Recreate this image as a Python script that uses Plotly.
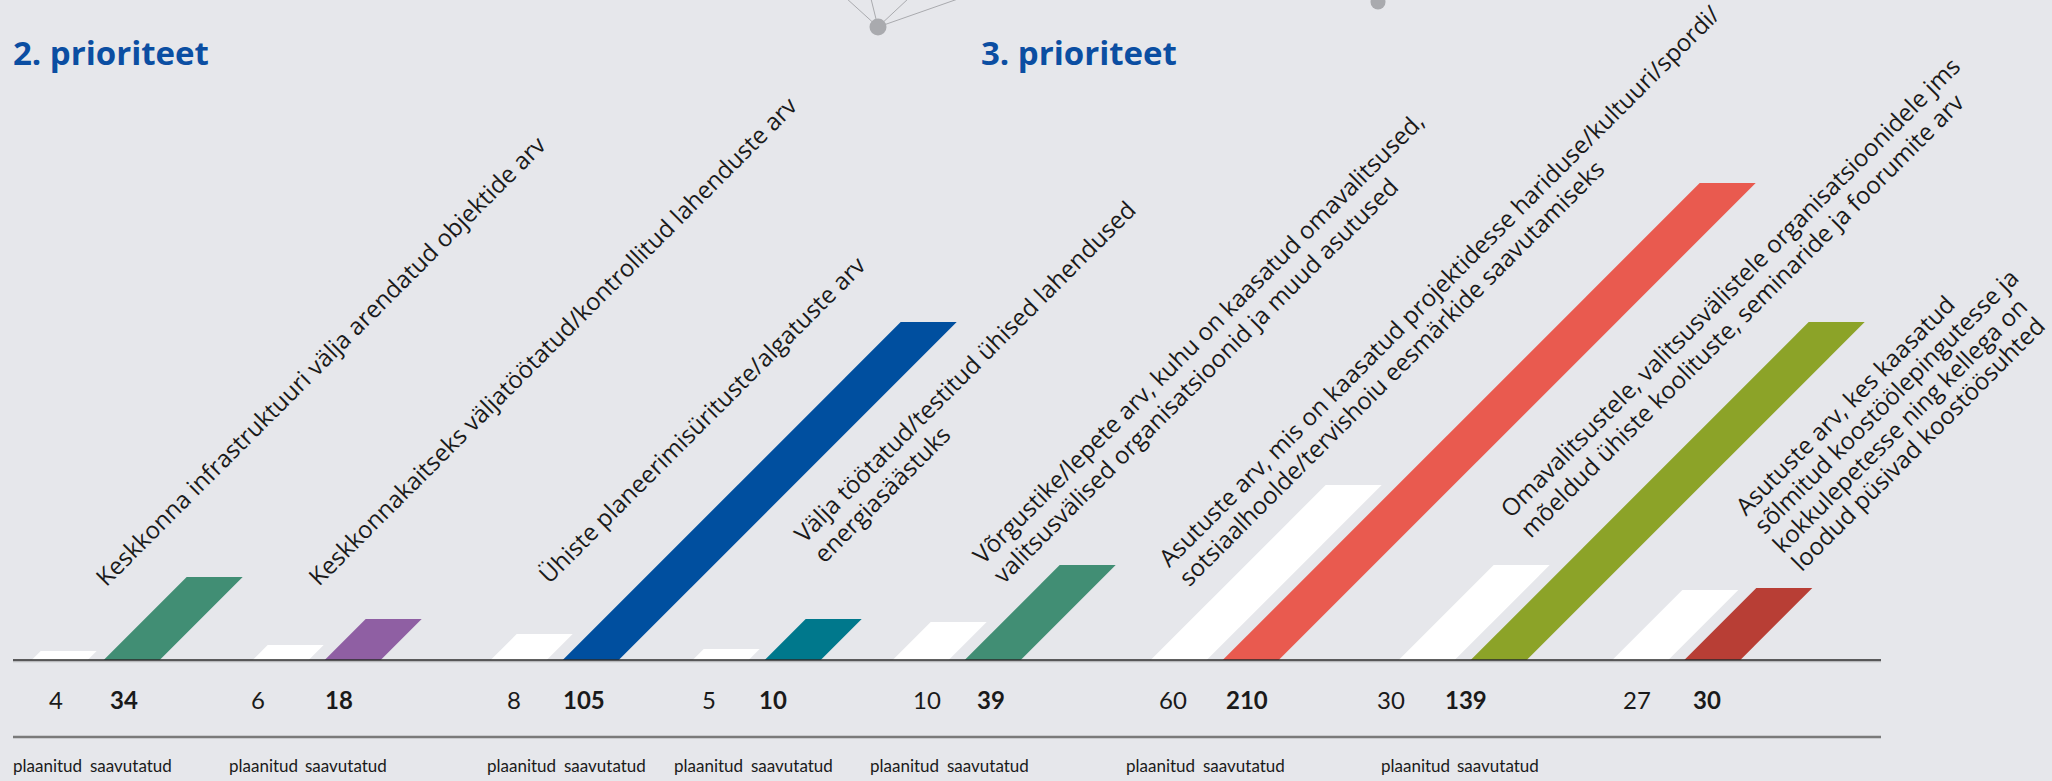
import plotly.graph_objects as go

# ---------------- data ----------------
indicators = [
    ["Keskkonna infrastruktuuri välja arendatud objektide arv"],
    ["Keskkonnakaitseks väljatöötatud/kontrollitud lahenduste arv"],
    ["Ühiste planeerimisürituste/algatuste arv"],
    ["Välja töötatud/testitud ühised lahendused", "energiasäästuks"],
    ["Võrgustike/lepete arv, kuhu on kaasatud omavalitsused,",
     "valitsusvälised organisatsioonid ja muud asutused"],
    ["Asutuste arv, mis on kaasatud projektidesse hariduse/kultuuri/spordi/",
     "sotsiaalhoolde/tervishoiu eesmärkide saavutamiseks"],
    ["Omavalitsustele, valitsusvälistele organisatsioonidele jms",
     "mõeldud ühiste koolituste, seminaride ja foorumite arv"],
    ["Asutuste arv, kes kaasatud", "sõlmitud koostöölepingutesse ja",
     "kokkulepetesse ning kellega on", "loodud püsivad koostöösuhted"],
]
planned_values = [4, 6, 8, 5, 10, 60, 30, 27]
achieved_values = [34, 18, 105, 10, 39, 210, 139, 30]
# drawn bar lengths (the infographic is not to scale)
planned_bar_len = [9, 15, 26, 11, 38, 175, 95, 70]
achieved_bar_len = [83, 41, 338, 41, 95, 477, 338, 72]
achieved_colors = ["#418e74", "#8f5fa3", "#004f9f", "#00788c",
                   "#418e74", "#e95a4f", "#8ca328", "#b83e35"]
section_titles = ["2. prioriteet", "3. prioriteet"]
planned_word = "plaanitud"
achieved_word = "saavutatud"

# ---------------- layout constants (pixel-like units) ----------------
W, H = 2052, 781
BASE = 660                      # baseline, px from top
pair_left = [31.7, 252.7, 490.7, 692.7, 892.7, 1150.7, 1398.7, 1612.3]
pair_gap = 72
bar_w = 56
num_x_planned = [56, 258, 514, 709, 927, 1173, 1391, 1637]
num_x_achieved = [124, 339, 584, 773, 991, 1247, 1466, 1707]
word_x_planned = [47, 263, 521, 708, 904, 1160, 1415]
word_x_achieved = [131, 346, 605, 792, 988, 1244, 1498]
label_start = [(100, 585), (313, 585), (543, 583), (798, 542),
               (977, 563), (1163, 566), (1505, 517), (1740, 515)]
line_step = [19.5, 19.5, 19.5, 20, 20, 19.5, 20, 18.4]
BG = "#e6e7eb"
TXT = "#1a1a1a"
FONT = "Open Sans"
NFONT = "Lato"
LFS = 24


def Y(py):
    return BASE - py


fig = go.Figure()


def para(x0, h):
    xs = [x0, x0 + bar_w, x0 + bar_w + h, x0 + h, x0]
    ys = [0, 0, h, h, 0]
    return xs, ys


# bars
for i in range(len(planned_values)):
    xs, ys = para(pair_left[i], planned_bar_len[i])
    fig.add_trace(go.Scatter(x=xs, y=ys, mode="lines", fill="toself",
                             fillcolor="#ffffff", line=dict(width=0),
                             hoverinfo="skip", showlegend=False))
    xs, ys = para(pair_left[i] + pair_gap, achieved_bar_len[i])
    fig.add_trace(go.Scatter(x=xs, y=ys, mode="lines", fill="toself",
                             fillcolor=achieved_colors[i], line=dict(width=0),
                             hoverinfo="skip", showlegend=False))

shapes = []
# baseline and lower rule
shapes.append(dict(type="line", x0=13, x1=1881, y0=-1.4, y1=-1.4, xref="x", yref="y",
                   line=dict(color="#b9babd", width=1.5), layer="above"))
shapes.append(dict(type="line", x0=13, x1=1881, y0=0, y1=0, xref="x", yref="y",
                   line=dict(color="#2b2b2b", width=1.5), layer="above"))
shapes.append(dict(type="line", x0=13, x1=1881, y0=Y(737), y1=Y(737), xref="x", yref="y",
                   line=dict(color="#7a7a7a", width=2.5), layer="above"))

# decorative network at top
grey = "#a9aaae"
for (ax, ay) in [(846, -2), (870.8, -2), (909, -2), (960.7, -2)]:
    shapes.append(dict(type="line", x0=878, y0=Y(27), x1=ax, y1=Y(ay), xref="x", yref="y",
                       line=dict(color=grey, width=1), layer="below"))
shapes.append(dict(type="circle", x0=878 - 8.5, x1=878 + 8.5, y0=Y(27 + 8.5), y1=Y(27 - 8.5),
                   xref="x", yref="y", fillcolor=grey, line=dict(width=0)))
shapes.append(dict(type="line", x0=1378, y0=Y(2), x1=1362, y1=Y(-4), xref="x", yref="y",
                   line=dict(color=grey, width=1)))
shapes.append(dict(type="circle", x0=1378 - 7.5, x1=1378 + 7.5, y0=Y(2 + 7.5), y1=Y(2 - 7.5),
                   xref="x", yref="y", fillcolor=grey, line=dict(width=0)))

ann = []
# titles
for t, tx in zip(section_titles, [12, 980]):
    ann.append(dict(x=tx, y=Y(52), text="<b>" + t + "</b>", showarrow=False,
                    xanchor="left", yanchor="middle", borderpad=0,
                    font=dict(family=FONT, size=33, color="#0b4ea2")))

# numbers
for i in range(len(planned_values)):
    ann.append(dict(x=num_x_planned[i], y=Y(699), text=str(planned_values[i]),
                    showarrow=False, xanchor="center", yanchor="middle",
                    font=dict(family=NFONT, size=24, color=TXT)))
    ann.append(dict(x=num_x_achieved[i], y=Y(699), text="<b>" + str(achieved_values[i]) + "</b>",
                    showarrow=False, xanchor="center", yanchor="middle",
                    font=dict(family=NFONT, size=24, color=TXT)))

# bottom words
for i in range(len(word_x_planned)):
    ann.append(dict(x=word_x_planned[i], y=Y(765), text=planned_word, showarrow=False,
                    xanchor="center", yanchor="middle",
                    font=dict(family=NFONT, size=17, color=TXT)))
    ann.append(dict(x=word_x_achieved[i], y=Y(765), text=achieved_word, showarrow=False,
                    xanchor="center", yanchor="middle",
                    font=dict(family=NFONT, size=17, color=TXT)))

# rotated indicator labels, one annotation per line,
# anchored on the lower-left corner of each rotated text box
boxh = 1.362 * LFS
desc = 0.293 * LFS * 0.7071
DX, DY = 6, 2
for i, lines in enumerate(indicators):
    sx, sy = label_start[i]
    for k, line in enumerate(lines):
        lx = sx + k * line_step[i] + DX
        ly = sy + k * line_step[i] + DY
        x0 = lx + desc - 0.7071 * boxh
        y0 = ly + desc
        ann.append(dict(x=x0, y=Y(y0), text=line, showarrow=False, textangle=-45,
                        xanchor="left", yanchor="bottom", borderpad=0, borderwidth=0,
                        font=dict(family=FONT, size=LFS, color=TXT)))

fig.update_layout(
    width=W, height=H, margin=dict(l=0, r=0, t=0, b=0),
    paper_bgcolor=BG, plot_bgcolor=BG,
    xaxis=dict(range=[0, W], visible=False, fixedrange=True),
    yaxis=dict(range=[BASE - H, BASE], visible=False, fixedrange=True),
    shapes=shapes, annotations=ann, showlegend=False,
)

fig.write_html("out.html", config={"displayModeBar": False},
               post_script="document.body.style.margin='0px';"
                           "document.body.style.overflow='hidden';")
